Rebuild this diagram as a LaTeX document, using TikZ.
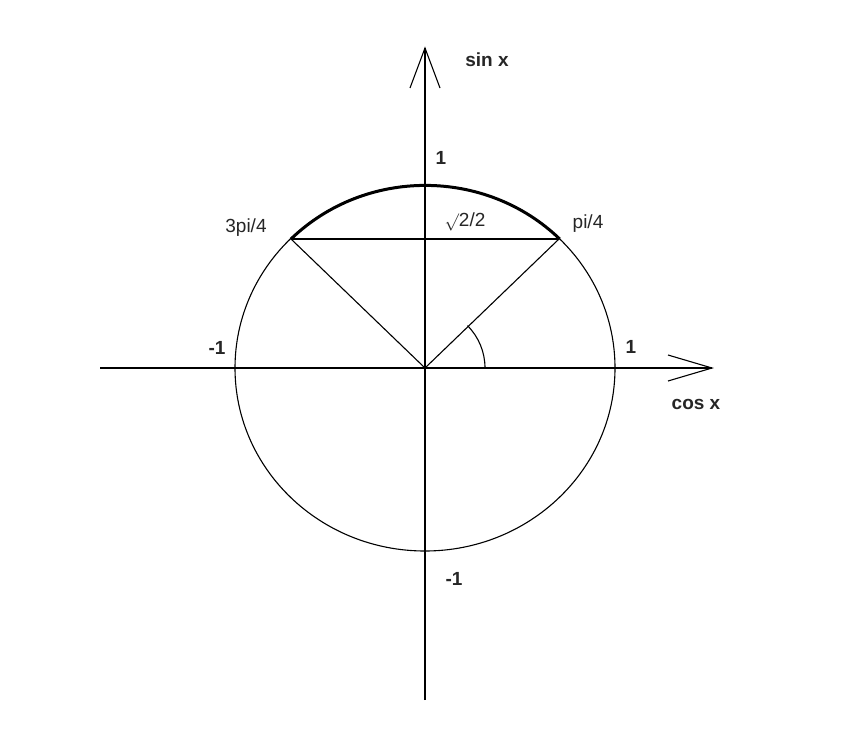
\documentclass[tikz,border=0pt]{standalone}
\usepackage{fontspec}
\setmainfont{Liberation Sans}
\begin{document}
\begin{tikzpicture}[x=1pt,y=-1pt,line width=1.1pt,
  lbl/.style={font=\fontsize{19}{19}\selectfont\bfseries,text=black!85},
  lblr/.style={font=\fontsize{19}{19}\selectfont,text=black!85}]
\useasboundingbox (0,0) rectangle (846,736);
\coordinate (O) at (425,368);
\coordinate (P1) at (559,239);
\coordinate (P3) at (291,239);
\coordinate (XL) at (100,368);
\coordinate (XR) at (712,368);
\coordinate (YB) at (425,700);
\coordinate (YT) at (425,48);
\draw (O) ellipse[x radius=190,y radius=183];
\draw (XL) -- (XR);
\draw (YB) -- (YT);
\draw (410,88) -- (YT) -- (440,88);
\draw (668,355) -- (XR) -- (668,381);
\draw (O) -- (P1);
\draw (O) -- (P3);
\draw (P3) -- (P1);
\draw[line width=3pt] (P3) arc[start angle=-135,end angle=-45,x radius=190,y radius=183];
\draw ([shift={(60,0)}]O) arc[start angle=0,end angle=-45,radius=60];
\node[lbl] (sinx) at (487,60) {sin x};
\node[lbl] (cosx) at (696,404) {cos x};
\node[lbl] (one1) at (441,158) {1};
\node[lbl] (one2) at (631,347) {1};
\node[lbl] (m1a) at (217,348) {-1};
\node[lbl] (m1b) at (454,579) {-1};
\node[lblr] (r22) at (465,222) {$\surd$2/2};
\node[lblr] (pi4) at (588,224) {pi/4};
\node[lblr] (tpi4) at (246,228) {3pi/4};
\end{tikzpicture}
\end{document}
